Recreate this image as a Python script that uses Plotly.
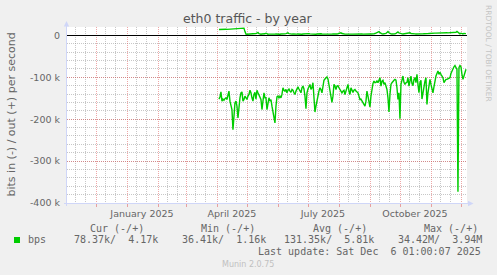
import plotly.graph_objects as go
import pandas as pd

# ---------------- data ----------------
title_text = "eth0 traffic - by year"
y_title = "bits in (-) / out (+) per second"
data_start = "2025-04-02"
x_range = ["2024-11-01 01:00", "2025-12-06 01:00"]

# inbound traffic (bits/s, shown negative), in k
in_k = [152, 147, 135, 157, 152, 155, 151, 149, 153, 145,
        133, 157, 169, 177, 225, 185, 161, 157, 169, 197,
        169, 149, 137, 135, 157, 153, 145, 149, 153, 145,
        141, 131, 137, 149, 157, 141, 136, 152, 131, 137,
        144, 149, 153, 177, 149, 137, 149, 149, 177, 161,
        149, 157, 153, 169, 185, 193, 209, 169, 147, 145,
        149, 145, 149, 141, 125, 131, 133, 129, 137, 131,
        128, 133, 136, 129, 131, 137, 141, 133, 129, 123,
        128, 133, 137, 125, 121, 128, 145, 175, 137, 128,
        123, 117, 129, 125, 113, 153, 183, 169, 153, 137,
        133, 125, 129, 137, 121, 107, 104, 101, 99, 104,
        117, 133, 141, 160, 145, 117, 121, 129, 121, 120,
        125, 129, 133, 137, 133, 131, 141, 133, 128, 117,
        133, 141, 125, 131, 136, 131, 129, 133, 136, 137,
        145, 153, 152, 157, 161, 168, 169, 157, 133, 145,
        161, 171, 145, 125, 115, 109, 113, 112, 109, 113,
        107, 101, 121, 109, 107, 117, 113, 121, 129, 149,
        183, 141, 117, 113, 109, 107, 105, 107, 125, 153,
        137, 199, 117, 107, 97, 112, 117, 113, 112, 101,
        121, 109, 97, 115, 120, 105, 101, 113, 93, 117,
        137, 113, 107, 152, 133, 117, 109, 101, 165, 137,
        121, 105, 117, 129, 137, 123, 107, 97, 91, 85,
        93, 88, 93, 96, 101, 113, 109, 105, 105, 104,
        103, 101, 91, 85, 80, 75, 72, 77, 81, 373,
        77, 72, 75, 93, 105, 97, 85, 81]

# outbound traffic (bits/s, positive), in k
out_k = [14.2, 14.5, 14.4, 14.6, 14.3, 14.5, 14.7, 14.6, 14.4, 14.5,
         14.8, 14.6, 14.5, 14.7, 14.9, 14.6, 14.5, 14.8, 15.0, 14.9,
         15.2, 15.0, 15.4, 15.6, 16.5, 17.2, 9.0,
         3.2, 2.8, 3.0, 2.6, 3.1, 2.9, 3.4, 3.0, 2.7, 3.3,
         4.5, 5.2, 7.0, 4.1, 3.0, 2.8, 3.2, 2.9, 3.1, 3.8,
         5.2, 3.4, 2.9, 3.0, 2.7, 3.1, 2.8, 3.3, 3.0, 2.9,
         3.2, 2.8, 3.1, 3.0, 2.7, 3.4, 3.2, 2.9, 3.1, 3.6,
         4.2, 4.8, 6.0, 4.0, 3.2, 2.9, 3.0, 3.3, 2.8, 3.1,
         3.0, 2.9, 3.2, 2.7, 3.0, 3.1, 2.8, 3.3, 3.6, 4.0,
         4.4, 4.7, 5.2, 4.1, 3.5, 3.2, 3.0, 2.9, 3.1, 3.0,
         2.8, 3.2, 3.5, 4.1, 5.1, 3.8, 3.2, 3.0, 2.9, 3.1,
         3.0, 2.8, 3.2, 3.4, 3.1, 2.9, 3.0, 3.3, 3.0, 2.8,
         3.1, 3.4, 3.9, 4.6, 5.2, 6.1, 4.4, 3.4, 3.1, 3.0,
         2.9, 3.2, 3.0, 3.4, 3.7, 3.3, 3.0, 2.9, 3.1, 3.2,
         3.0, 3.4, 3.8, 3.5, 3.2, 3.6, 3.3, 3.1, 3.4, 3.9,
         3.5, 3.2, 3.0, 3.3, 3.6, 3.4, 3.1, 3.5, 3.8, 4.4,
         5.2, 6.8, 8.6, 9.2, 6.4, 4.2, 3.6, 3.3, 3.5, 3.9,
         4.8, 6.9, 9.0, 6.2, 4.3, 3.6, 3.4, 3.2, 3.5, 3.9,
         5.0, 6.5, 8.2, 5.8, 4.5, 3.9, 3.5, 3.3, 3.6, 3.4,
         3.8, 4.4, 5.1, 5.8, 6.2, 4.6, 3.9, 3.5, 3.3, 3.6,
         3.4, 3.2, 3.5, 3.8, 3.6, 3.4, 3.3, 3.7, 4.0, 3.6,
         3.5, 3.8, 4.2, 4.6, 5.0, 5.3, 5.1, 4.9, 5.2, 5.5,
         5.4, 5.6, 5.8, 5.5, 5.7, 6.0, 5.8, 5.6, 5.9, 6.1,
         6.0, 6.2, 5.9, 6.1, 6.3, 6.0, 6.2, 6.4, 6.1, 6.3,
         7.5, 9.5, 7.0, 4.8, 3.6, 5.2, 3.8, 3.4, 4.6, 3.9, 4.2]

y_tick_vals = [0, -100000, -200000, -300000, -400000]
y_tick_text = ["0", "-100 k", "-200 k", "-300 k", "-400 k"]
x_label_vals = ["2025-01-15", "2025-04-15", "2025-07-15", "2025-10-15"]
x_label_text = ["January 2025", "April 2025", "July 2025", "October 2025"]
month_starts = ["2024-12-01", "2025-01-01", "2025-02-01", "2025-03-01", "2025-04-01",
                "2025-05-01", "2025-06-01", "2025-07-01", "2025-08-01", "2025-09-01",
                "2025-10-01", "2025-11-01", "2025-12-01"]
minor_days = []
for m in ["2024-11", "2024-12", "2025-01", "2025-02", "2025-03", "2025-04", "2025-05",
          "2025-06", "2025-07", "2025-08", "2025-09", "2025-10", "2025-11", "2025-12"]:
    minor_days += [m + "-10", m + "-20"]

legend_headers = ["Cur (-/+)", "Min (-/+)", "Avg (-/+)", "Max (-/+)"]
legend_values = ["78.37k/  4.17k", "36.41k/  1.16k", "131.35k/  5.81k", "34.42M/  3.94M"]
series_name = "bps"
last_update = "Last update: Sat Dec  6 01:00:07 2025"
munin_ver = "Munin 2.0.75"
side_text = "RRDTOOL / TOBI OETIKER"

# ---------------- figure ----------------
W, H = 497, 275
L, R, T, B = 67, 467, 27, 203
GREEN = "#00CC00"
FONT_C = "#666666"
AXIS_C = "#CFD6F8"
MGRID = "rgba(222,79,79,0.5)"
GRID = "rgba(143,143,143,0.5)"


def px(x):
    return (x - L) / (R - L)


def py(y):
    return (B - y) / (B - T)


dates_in = pd.date_range(data_start, periods=len(in_k), freq="D")
dates_out = pd.date_range(data_start, periods=len(out_k), freq="D")

fig = go.Figure()
fig.add_trace(go.Scatter(x=dates_in, y=[-v * 1000 for v in in_k], mode="lines",
                         line=dict(color=GREEN, width=1.4), hoverinfo="skip"))
fig.add_trace(go.Scatter(x=dates_out, y=[v * 1000 for v in out_k], mode="lines",
                         line=dict(color=GREEN, width=1.4), hoverinfo="skip"))
fig.add_trace(go.Scatter(x=[x_label_vals[0]], y=[None], xaxis="x2", mode="lines",
                         hoverinfo="skip"))

mono = "DejaVu Sans Mono"
sans = "DejaVu Sans"

ann = []
ann.append(dict(text=title_text, x=px(248), y=py(18.5), xref="paper", yref="paper",
                xanchor="center", yanchor="middle", showarrow=False,
                font=dict(family=sans, size=12.5, color="#555555")))
ann.append(dict(text=y_title, x=px(10.5), y=0.5, xref="paper", yref="paper",
                xanchor="center", yanchor="middle", showarrow=False, textangle=-90,
                font=dict(family=sans, size=11, color=FONT_C)))
ann.append(dict(text=side_text, x=px(488.5), y=py(53.5), xref="paper", yref="paper",
                xanchor="center", yanchor="middle", showarrow=False, textangle=90,
                font=dict(family=sans, size=7.5, color="#C4C4C4")))
hx = [89.3, 200, 311.7, 422.7]
vx = [72.7, 180.7, 283.3, 396.7]
for h, x in zip(legend_headers, hx):
    ann.append(dict(text=h.replace(" ", "\u00a0"), x=px(x - 1), y=py(228), xref="paper",
                    yref="paper", xanchor="left", yanchor="middle", showarrow=False,
                    font=dict(family=mono, size=10, color=FONT_C)))
for v, x in zip(legend_values, vx):
    ann.append(dict(text=v.replace(" ", "\u00a0"), x=px(x - 1), y=py(239.5), xref="paper",
                    yref="paper", xanchor="left", yanchor="middle", showarrow=False,
                    font=dict(family=mono, size=10, color=FONT_C)))
ann.append(dict(text=series_name, x=px(26), y=py(239.5), xref="paper", yref="paper",
                xanchor="left", yanchor="middle", showarrow=False,
                font=dict(family=mono, size=10, color=FONT_C)))
ann.append(dict(text=last_update.replace(" ", "\u00a0"), x=px(483), y=py(251.5),
                xref="paper", yref="paper", xanchor="right", yanchor="middle",
                showarrow=False, font=dict(family=mono, size=10, color=FONT_C)))
ann.append(dict(text=munin_ver, x=px(248), y=py(264), xref="paper", yref="paper",
                xanchor="center", yanchor="middle", showarrow=False,
                font=dict(family=sans, size=8, color="#C0C0C0")))

shapes = [
    dict(type="rect", xref="paper", yref="paper", x0=px(14), x1=px(20), y0=py(243), y1=py(237),
         fillcolor=GREEN, line=dict(width=0)),
    dict(type="line", xref="paper", yref="paper", x0=px(66.5), x1=px(66.5), y0=py(206), y1=py(25),
         line=dict(color=AXIS_C, width=1), layer="above"),
    dict(type="line", xref="paper", yref="paper", x0=px(64), x1=px(469), y0=py(203.5), y1=py(203.5),
         line=dict(color=AXIS_C, width=1), layer="above"),
    dict(type="path", xref="paper", yref="paper",
         path="M {} {} L {} {} L {} {} Z".format(px(63.8), py(26.5), px(69.2), py(26.5), px(66.5), py(21)),
         fillcolor=AXIS_C, line=dict(width=0), layer="above"),
    dict(type="path", xref="paper", yref="paper",
         path="M {} {} L {} {} L {} {} Z".format(px(468), py(200.8), px(468), py(206.2), px(473.5), py(203.5)),
         fillcolor=AXIS_C, line=dict(width=0), layer="above"),
]

fig.update_layout(
    width=W, height=H,
    margin=dict(l=L, r=W - R, t=T, b=H - B, pad=0),
    paper_bgcolor="#F0F0F0", plot_bgcolor="#FFFFFF",
    showlegend=False,
    annotations=ann, shapes=shapes,
    xaxis=dict(type="date", range=x_range, tickmode="array", tickvals=month_starts,
               showticklabels=False, ticks="outside", ticklen=3, tickcolor=MGRID,
               showgrid=True, gridcolor=MGRID, griddash="1px,1px", gridwidth=1,
               zeroline=False, showline=False, fixedrange=True,
               minor=dict(tickmode="array", tickvals=minor_days, showgrid=True,
                          gridcolor=GRID, griddash="1px,1px", ticks="")),
    xaxis2=dict(type="date", range=x_range, overlaying="x", side="bottom", anchor="y",
                tickmode="array", tickvals=x_label_vals, ticktext=x_label_text,
                showgrid=False, ticks="", zeroline=False, showline=False,
                tickfont=dict(family=sans, size=9.5, color=FONT_C), ticklabelstandoff=3),
    yaxis=dict(range=[-400000, 20000], tickmode="array", tickvals=y_tick_vals,
               ticktext=y_tick_text, ticks="", showgrid=True, gridcolor=MGRID,
               griddash="1px,1px", zeroline=True, zerolinecolor="#000000", zerolinewidth=1,
               showline=False, tickfont=dict(family=sans, size=9.5, color=FONT_C),
               ticklabelstandoff=6,
               minor=dict(tickmode="linear", tick0=0, dtick=20000, showgrid=True,
                          gridcolor=GRID, griddash="1px,1px", ticks="")),
)

fig.write_html("out.html")
